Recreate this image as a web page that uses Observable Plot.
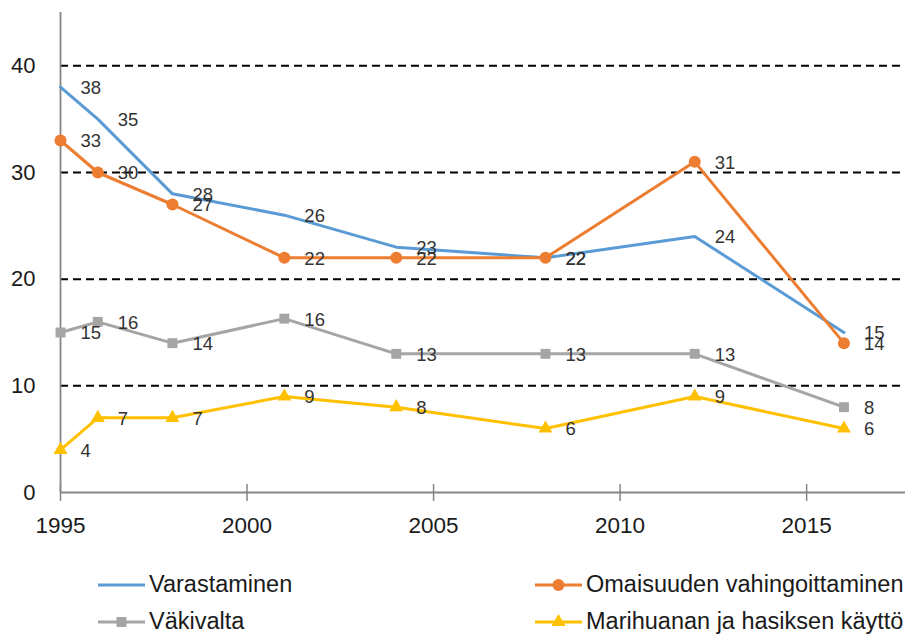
<!DOCTYPE html>
<html>
<head>
<meta charset="utf-8">
<script src="https://cdn.jsdelivr.net/npm/d3@7"></script>
<script src="https://cdn.jsdelivr.net/npm/@observablehq/plot@0.6"></script>
<style>
  body { margin: 0; background: #fff; font-family: "Liberation Sans", Arial, sans-serif; }
  #wrap { position: relative; width: 909px; height: 635px; overflow: hidden; }
  #legend { position: absolute; left: 98px; top: 566px; display: grid; grid-template-columns: 437px 330px; grid-auto-rows: 37px; }
  .item { display: flex; align-items: center; font-size: 23.5px; line-height: 1; color: #1a1a1a; white-space: nowrap; }
  .item svg { margin-right: 4px; flex: none; }
</style>
</head>
<body>
<div id="wrap"></div>
<script>
const years = [1995, 1996, 1998, 2001, 2004, 2008, 2012, 2016];
const seriesNames = ["Varastaminen", "Omaisuuden vahingoittaminen", "Väkivalta", "Marihuanan ja hasiksen käyttö"];
const varastaminen = [38, 35, 28, 26, 23, 22, 24, 15];
const omaisuus = [33, 30, 27, 22, 22, 22, 31, 14];
const vakivalta = [15, 16, 14, 16.3, 13, 13, 13, 8];
const marihuana = [4, 7, 7, 9, 8, 6, 9, 6];
const colors = ["#5B9BD5", "#ED7D31", "#A5A5A5", "#FFC000"];
const symbols = [null, "circle", "square", "triangle"];
const symbolR = [0, 6, 5.6, 5.2];
const xTicks = [1995, 2000, 2005, 2010, 2015];
const yTicks = [0, 10, 20, 30, 40];
const gridTicks = [10, 20, 30, 40];

const allSeries = [varastaminen, omaisuus, vakivalta, marihuana];
const data = [];
allSeries.forEach((vals, si) => vals.forEach((v, i) => data.push({
  series: seriesNames[si], year: years[i], value: v, label: String(Math.round(v))
})));

const markerMarks = seriesNames.map((name, si) => symbols[si] ? Plot.dot(data.filter(d => d.series === name), {
  x: "year", y: "value", fill: colors[si], stroke: null, symbol: () => symbols[si], r: symbolR[si]
}) : null).filter(Boolean);

const chart = Plot.plot({
  width: 909,
  height: 545,
  marginLeft: 60,
  marginRight: 4,
  marginTop: 12,
  marginBottom: 53,
  style: { fontFamily: "'Liberation Sans', Arial, sans-serif", background: "transparent" },
  x: { domain: [1995, 2017.65], axis: null, label: null },
  y: { domain: [0, 45], axis: null, label: null },
  color: { domain: seriesNames, range: colors },
  marks: [
    Plot.ruleY(gridTicks, { stroke: "#000", strokeWidth: 2, strokeDasharray: "8,5" }),
    Plot.ruleY([0], { stroke: "#868686", strokeWidth: 1.8 }),
    Plot.ruleX([1995], { stroke: "#868686", strokeWidth: 1.8 }),
    Plot.axisX({ ticks: xTicks, tickFormat: d => String(d), tickSize: 9, tickPadding: 16, fontSize: 22.5, stroke: "#868686", strokeWidth: 1.5, color: "#1a1a1a", label: null }),
    Plot.axisX({ ticks: xTicks, tickSize: -8, text: null, stroke: "#868686", strokeWidth: 1.5, label: null }),
    Plot.axisY({ ticks: yTicks, tickSize: 0, tickPadding: 25, fontSize: 22, color: "#1a1a1a", label: null }),
    Plot.line(data, { x: "year", y: "value", z: "series", stroke: "series", strokeWidth: 3 }),
    ...markerMarks,
    Plot.text(data, { x: "year", y: "value", text: "label", dx: 20, dy: 1, textAnchor: "start", fontSize: 18.5, fill: "#333" })
  ]
});
document.getElementById("wrap").appendChild(chart);

// Legend
const legend = document.createElement("div");
legend.id = "legend";
[0, 1, 2, 3].forEach(si => {
  const item = document.createElement("div");
  item.className = "item";
  const w = 47, h = 20;
  const svg = d3.create("svg").attr("width", w).attr("height", h);
  svg.append("line").attr("x1", 0).attr("x2", w).attr("y1", h / 2).attr("y2", h / 2)
    .attr("stroke", colors[si]).attr("stroke-width", 3);
  if (symbols[si]) {
    const sym = { circle: d3.symbolCircle, square: d3.symbolSquare, triangle: d3.symbolTriangle }[symbols[si]];
    svg.append("path").attr("transform", `translate(${w / 2},${h / 2})`)
      .attr("d", d3.symbol(sym, Math.PI * symbolR[si] * symbolR[si])()).attr("fill", colors[si]);
  }
  item.appendChild(svg.node());
  const span = document.createElement("span");
  span.textContent = seriesNames[si];
  item.appendChild(span);
  legend.appendChild(item);
});
document.getElementById("wrap").appendChild(legend);
</script>
</body>
</html>
